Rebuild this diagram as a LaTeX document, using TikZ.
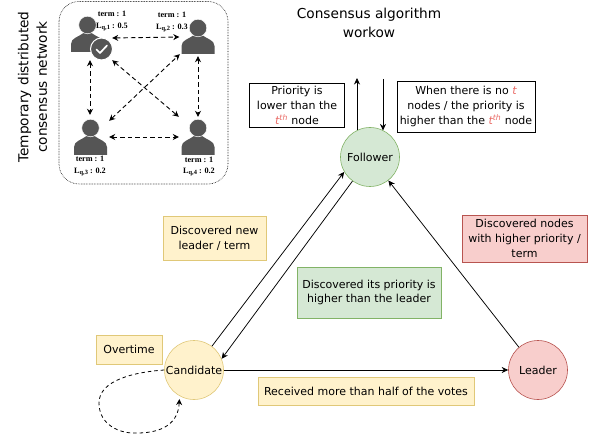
\documentclass[tikz,border=0pt]{standalone}
\usepackage{fontspec}
\setsansfont{DejaVu Sans}
\newfontfamily\labelfont{Liberation Serif}
\definecolor{tyfill}{HTML}{FFF2CC}\definecolor{tyline}{HTML}{E0C878}
\definecolor{tgfill}{HTML}{D5E8D4}\definecolor{tgline}{HTML}{82B366}
\definecolor{trfill}{HTML}{F8CECC}\definecolor{trline}{HTML}{B85450}
\definecolor{tdark}{HTML}{555555}\definecolor{tred}{HTML}{EA6B66}
\newcommand{\thnode}{{\color{tred}\itshape t\textsuperscript{th}}}
\newcommand{\qlabel}[2]{term : 1\\L\raisebox{-1.2pt}{\fontsize{6.4}{6.4}\selectfont q,#1} : #2}
\newcommand{\drawperson}[3]{%
  \fill[tdark] (#1-16.5,#2) -- (#1-16.5,#2-8) .. controls (#1-16.5,#2-14) and (#1-9,#2-15) .. (#1-4,#2-19)
    -- (#1+4,#2-19) .. controls (#1+9,#2-15) and (#1+16.5,#2-14) .. (#1+16.5,#2-8) -- (#1+16.5,#2) -- cycle;
  \filldraw[fill=tdark,draw=white,line width=0.5pt] (#1,#3) circle (8.8);}
\usetikzlibrary{arrows.meta}
\tikzset{
  base/.style={font=\sffamily\fontsize{11}{14.7}\selectfont,align=center,inner sep=0pt},
  box/.style={base,draw,minimum width=#1},
  state/.style={base,circle,minimum size=59pt,line width=0.6pt},
  conn/.style={-{Stealth[length=6.5pt,width=6pt]},line width=0.75pt},
  dconn/.style={{Stealth[length=6pt,width=6pt]}-{Stealth[length=6pt,width=6pt]},dash pattern=on 4.5pt off 3pt,line width=0.9pt},
  anchorbox/.style={minimum width=#1,inner sep=0pt},
  tiny/.style={font=\labelfont\bfseries\fontsize{8.2}{11.5}\selectfont,align=center,inner sep=0pt},
  heading/.style={font=\sffamily\fontsize{13.7}{18.5}\selectfont,align=center,inner sep=0pt}
}
\begin{document}
\begin{tikzpicture}[x=1pt,y=-1pt]
\useasboundingbox (0,0) rectangle (594,438);
\fill[white] (0,0) rectangle (594,438);
% network frame
\draw[densely dotted,line width=0.6pt,rounded corners=20pt] (59,1.5) rectangle (228,184);
\drawperson{87.5}{52}{25}
\drawperson{198}{54}{28}
\drawperson{90.5}{155}{128}
\drawperson{198}{155}{128}
% badge
\filldraw[fill=tdark,draw=white,line width=1pt] (101.5,49) circle (11);
\draw[white,line width=1.7pt,line cap=round,line join=round] (96.5,49.5) -- (100,53) -- (107,45.5);
% invisible person frames
\node[anchorbox=44pt,minimum height=44pt] (p1) at (90,38) {};
\node[anchorbox=37pt,minimum height=38pt] (p2) at (198,37) {};
\node[anchorbox=38pt,minimum height=44pt] (p3) at (90,137) {};
\node[anchorbox=38pt,minimum height=40pt] (p4) at (198,137) {};
\draw[dconn] (p1.east) -- (p2.west);
\draw[dconn] (p1.south) -- (p3.north);
\draw[dconn] (p2.south) -- (p4.north);
\draw[dconn] (p3.east) -- (p4.west);
\draw[dconn] (p1.south east) -- (p4.north west);
\draw[dconn] ([yshift=-6pt]p3.north east) -- ([xshift=0.5pt,yshift=2pt]p2.south west);
% small labels
\node[tiny] (l1) at (112,21) {\qlabel{1}{0.5}};
\node[tiny] (l2) at (172,22) {\qlabel{2}{0.3}};
\node[tiny] (l3) at (90,166) {\qlabel{3}{0.2}};
\node[tiny] (l4) at (199,166.5) {\qlabel{4}{0.2}};
% headings
\node[heading,rotate=90] (t1) at (32.5,87) {Temporary distributed\\consensus network};
\node[heading] (t2) at (369,23) {Consensus algorithm\\workow};
% states
\node[state,draw=tgline,fill=tgfill] (f) at (370,157) {Follower};
\node[state,draw=tyline,fill=tyfill] (c) at (194,370) {Candidate};
\node[state,draw=trline,fill=trfill] (l) at (538,370) {Leader};
% label boxes
\node[box=95pt,minimum height=44pt,draw=black,line width=0.6pt] (b1) at (297,105.3) {Priority is\\lower than the\\\thnode{} node};
\node[box=138pt,minimum height=51pt,draw=black,line width=0.6pt] (b2) at (466,106.5) {When there is no {\color{tred}\itshape t}\\nodes / the priority is\\higher than the \thnode{} node};
\node[box=103pt,minimum height=44pt,draw=tyline,fill=tyfill] (b3) at (214.5,238) {Discovered new\\leader / term};
\node[box=144pt,minimum height=51pt,draw=tgline,fill=tgfill] (b4) at (369,292.5) {Discovered its priority is\\higher than the leader};
\node[box=66pt,minimum height=29pt,draw=tyline,fill=tyfill] (b5) at (129,349.5) {Overtime};
\node[box=216pt,minimum height=28pt,draw=tyline,fill=tyfill] (b6) at (366,391) {Received more than half of the votes};
\node[box=125pt,minimum height=47pt,draw=trline,fill=trfill] (b7) at (524.5,238.5) {Discovered nodes\\with higher priority /\\term};
% connectors
\coordinate (up) at (357,78);
\coordinate (down) at (383,79);
\draw[conn] (up |- f.117) -- (up);
\draw[conn] (down) -- (down |- f.63);
\draw[conn] (c.53) -- (f.210);
\draw[conn] (f.234) -- (c.22);
\draw[conn] (l.130) -- (f.308);
\draw[conn] (c.east) -- (l.west);
\draw[-{Stealth[length=6pt,width=6pt]},dash pattern=on 3.5pt off 3pt,line width=0.8pt,shorten >=3pt]
  (c.west) .. controls (135,372) and (99,380) .. (99,403)
  .. controls (99,425) and (120,434) .. (137,433)
  .. controls (155,433) and (178,428) .. (c.241);
\end{tikzpicture}
\end{document}
